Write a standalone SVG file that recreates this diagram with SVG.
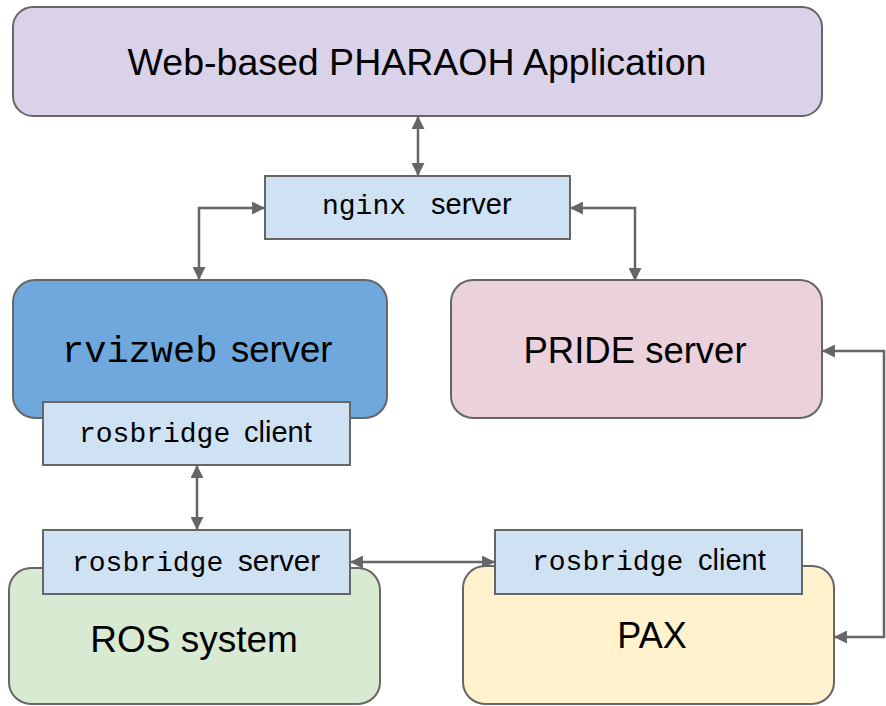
<svg xmlns="http://www.w3.org/2000/svg" width="886" height="706" viewBox="0 0 886 706">
<style>
.box{stroke:#666666;stroke-width:2}
.conn{fill:none;stroke:#666666;stroke-width:2.5}
.sans{font-family:"Liberation Sans",Arial,sans-serif;fill:#000}
.mono{font-family:"Liberation Mono","Courier New",monospace;fill:#000}
</style>
<defs>
<marker id="ah" viewBox="0 0 12 12" refX="11" refY="6" markerWidth="13" markerHeight="13" markerUnits="userSpaceOnUse" orient="auto-start-reverse">
<path d="M0,0 L12,6 L0,12 Z" fill="#666666"/>
</marker>
</defs>
<rect width="886" height="706" fill="#ffffff"/>
<g id="connectors">
<path class="conn" d="M418,117 V175" marker-start="url(#ah)" marker-end="url(#ah)"/>
<path class="conn" d="M264,208 H199 V279" marker-start="url(#ah)" marker-end="url(#ah)"/>
<path class="conn" d="M571,208 H635 V280" marker-start="url(#ah)" marker-end="url(#ah)"/>
<path class="conn" d="M197,466 V529" marker-start="url(#ah)" marker-end="url(#ah)"/>
<path class="conn" d="M351,562 H494" marker-start="url(#ah)" marker-end="url(#ah)"/>
<path class="conn" d="M823,351 H884 V637 H835" marker-start="url(#ah)" marker-end="url(#ah)"/>
</g>
<g id="title">
<rect class="box" x="13" y="7" width="809" height="109" rx="20" fill="#d9d2e9"/>
<text class="sans" x="417" y="75" font-size="37.5" text-anchor="middle">Web-based PHARAOH Application</text>
</g>
<g id="nginx">
<rect class="box" x="265" y="176" width="305" height="63" fill="#cfe2f3"/>
<text y="214" font-size="28"><tspan class="mono" x="322">nginx</tspan><tspan class="sans" x="431" font-size="29">server</tspan></text>
</g>
<g id="rvizweb">
<rect class="box" x="13" y="280" width="374" height="138" rx="22" fill="#6fa8dc"/>
<text y="362"><tspan class="mono" x="62" font-size="37">rvizweb</tspan><tspan class="sans" x="231" font-size="36.5">server</tspan></text>
</g>
<g id="rvizweb-rosbridge-client">
<rect class="box" x="43" y="402" width="307" height="63" fill="#cfe2f3"/>
<text y="442"><tspan class="mono" x="79" font-size="28">rosbridge</tspan><tspan class="sans" x="244" font-size="29">client</tspan></text>
</g>
<g id="pride">
<rect class="box" x="451" y="280" width="371" height="138" rx="22" fill="#ead1dc"/>
<text class="sans" x="635" y="363" font-size="36.5" text-anchor="middle">PRIDE server</text>
</g>
<g id="ros-system">
<rect class="box" x="9" y="568" width="371" height="136" rx="22" fill="#d9ead3"/>
<text class="sans" x="194" y="652" font-size="37" text-anchor="middle">ROS system</text>
</g>
<g id="rosbridge-server">
<rect class="box" x="43" y="530" width="307" height="64" fill="#cfe2f3"/>
<text y="571"><tspan class="mono" x="72" font-size="28">rosbridge</tspan><tspan class="sans" x="238" font-size="29.5">server</tspan></text>
</g>
<g id="pax">
<rect class="box" x="463" y="566" width="371" height="138" rx="22" fill="#fff2cc"/>
<text class="sans" x="652" y="648" font-size="36" text-anchor="middle">PAX</text>
</g>
<g id="pax-rosbridge-client">
<rect class="box" x="495" y="530" width="307" height="64" fill="#cfe2f3"/>
<text y="570"><tspan class="mono" x="532" font-size="28">rosbridge</tspan><tspan class="sans" x="698" font-size="29">client</tspan></text>
</g>
</svg>
